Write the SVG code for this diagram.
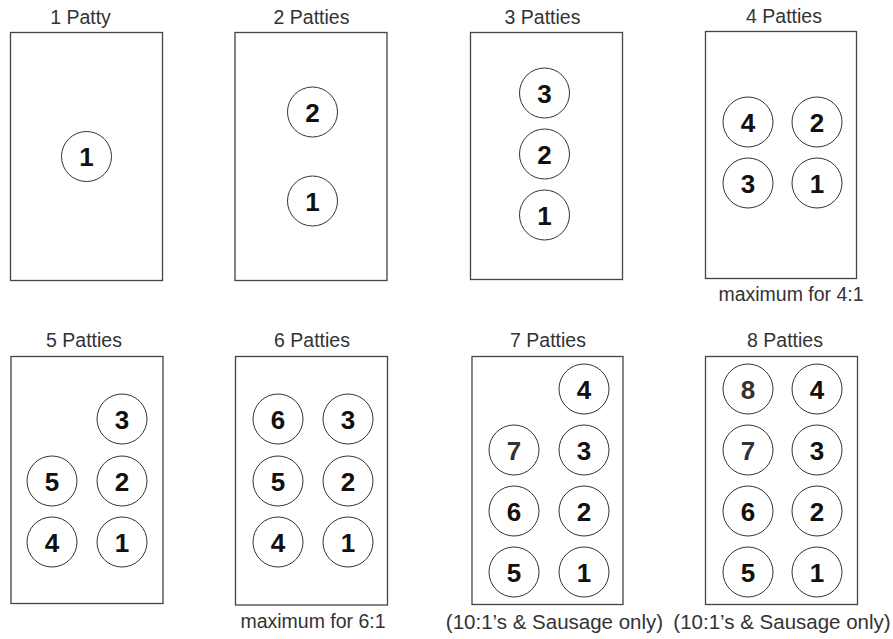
<svg xmlns="http://www.w3.org/2000/svg" width="893" height="639" viewBox="0 0 893 639">
<style>
  .panel { fill: #ffffff; stroke: #444444; stroke-width: 1.3; }
  .patty { fill: #ffffff; stroke: #333333; stroke-width: 1; }
  .num { font-family: "Liberation Sans", Arial, sans-serif; font-weight: bold; font-size: 26px; fill: #111111; text-anchor: middle; }
  .num.soft { fill: #333333; }
  .title { font-family: "Liberation Sans", Arial, sans-serif; font-size: 19.5px; fill: #333333; text-anchor: middle; }
  .note { font-family: "Liberation Sans", Arial, sans-serif; font-size: 19.5px; fill: #333333; text-anchor: middle; }
  .note.wide { font-size: 20.5px; }
</style>
<rect x="0" y="0" width="893" height="639" fill="#ffffff"/>

<g id="panel-1">
  <text class="title" x="80.5" y="24">1 Patty</text>
  <rect class="panel" x="10.5" y="32.5" width="152" height="248"/>
  <g id="p1-1"><circle class="patty" cx="86.5" cy="156.5" r="25"/><text class="num" x="86.5" y="166">1</text></g>
</g>

<g id="panel-2">
  <text class="title" x="311.5" y="24">2 Patties</text>
  <rect class="panel" x="235" y="32.5" width="152" height="248"/>
  <g id="p2-2"><circle class="patty" cx="312.5" cy="112" r="25"/><text class="num" x="312.5" y="121.5">2</text></g>
  <g id="p2-1"><circle class="patty" cx="312.5" cy="201" r="25"/><text class="num" x="312.5" y="210.5">1</text></g>
</g>

<g id="panel-3">
  <text class="title" x="542.5" y="24">3 Patties</text>
  <rect class="panel" x="470.5" y="32.5" width="152" height="247"/>
  <g id="p3-3"><circle class="patty" cx="544.5" cy="93" r="25"/><text class="num" x="544.5" y="102.5">3</text></g>
  <g id="p3-2"><circle class="patty" cx="544.5" cy="154" r="25"/><text class="num" x="544.5" y="163.5">2</text></g>
  <g id="p3-1"><circle class="patty" cx="544.5" cy="215" r="25"/><text class="num" x="544.5" y="224.5">1</text></g>
</g>

<g id="panel-4">
  <text class="title" x="784" y="23">4 Patties</text>
  <rect class="panel" x="705.5" y="31.5" width="151" height="247"/>
  <g id="p4-4"><circle class="patty" cx="748" cy="122" r="25"/><text class="num" x="748" y="131.5">4</text></g>
  <g id="p4-2"><circle class="patty" cx="817" cy="122" r="25"/><text class="num" x="817" y="131.5">2</text></g>
  <g id="p4-3"><circle class="patty" cx="748" cy="183" r="25"/><text class="num" x="748" y="192.5">3</text></g>
  <g id="p4-1"><circle class="patty" cx="817" cy="183" r="25"/><text class="num" x="817" y="192.5">1</text></g>
  <text class="note" x="791" y="301">maximum for 4:1</text>
</g>

<g id="panel-5">
  <text class="title" x="84" y="347">5 Patties</text>
  <rect class="panel" x="11" y="356.5" width="152" height="247"/>
  <g id="p5-3"><circle class="patty" cx="122" cy="419" r="25"/><text class="num" x="122" y="428.5">3</text></g>
  <g id="p5-5"><circle class="patty" cx="52" cy="481" r="25"/><text class="num" x="52" y="490.5">5</text></g>
  <g id="p5-2"><circle class="patty" cx="122" cy="481" r="25"/><text class="num" x="122" y="490.5">2</text></g>
  <g id="p5-4"><circle class="patty" cx="52" cy="542" r="25"/><text class="num" x="52" y="551.5">4</text></g>
  <g id="p5-1"><circle class="patty" cx="122" cy="542" r="25"/><text class="num" x="122" y="551.5">1</text></g>
</g>

<g id="panel-6">
  <text class="title" x="312" y="347">6 Patties</text>
  <rect class="panel" x="235.5" y="356.5" width="152" height="248.5"/>
  <g id="p6-6"><circle class="patty" cx="278" cy="419" r="25"/><text class="num" x="278" y="428.5">6</text></g>
  <g id="p6-3"><circle class="patty" cx="348" cy="419" r="25"/><text class="num" x="348" y="428.5">3</text></g>
  <g id="p6-5"><circle class="patty" cx="278" cy="481" r="25"/><text class="num" x="278" y="490.5">5</text></g>
  <g id="p6-2"><circle class="patty" cx="348" cy="481" r="25"/><text class="num" x="348" y="490.5">2</text></g>
  <g id="p6-4"><circle class="patty" cx="278" cy="542" r="25"/><text class="num" x="278" y="551.5">4</text></g>
  <g id="p6-1"><circle class="patty" cx="348" cy="542" r="25"/><text class="num" x="348" y="551.5">1</text></g>
  <text class="note" x="313" y="628">maximum for 6:1</text>
</g>

<g id="panel-7">
  <text class="title" x="548" y="347">7 Patties</text>
  <rect class="panel" x="472" y="356.5" width="151" height="248"/>
  <g id="p7-4"><circle class="patty" cx="584" cy="389" r="25"/><text class="num" x="584" y="398.5">4</text></g>
  <g id="p7-7"><circle class="patty" cx="514" cy="450" r="25"/><text class="num soft" x="514" y="459.5">7</text></g>
  <g id="p7-3"><circle class="patty" cx="584" cy="450" r="25"/><text class="num" x="584" y="459.5">3</text></g>
  <g id="p7-6"><circle class="patty" cx="514" cy="511" r="25"/><text class="num" x="514" y="520.5">6</text></g>
  <g id="p7-2"><circle class="patty" cx="584" cy="511" r="25"/><text class="num" x="584" y="520.5">2</text></g>
  <g id="p7-5"><circle class="patty" cx="514" cy="572" r="25"/><text class="num" x="514" y="581.5">5</text></g>
  <g id="p7-1"><circle class="patty" cx="584" cy="572" r="25"/><text class="num" x="584" y="581.5">1</text></g>
  <text class="note wide" x="554.5" y="629">(10:1’s &amp; Sausage only)</text>
</g>

<g id="panel-8">
  <text class="title" x="785" y="347">8 Patties</text>
  <rect class="panel" x="705.5" y="356.5" width="152" height="248"/>
  <g id="p8-8"><circle class="patty" cx="748" cy="389" r="25"/><text class="num soft" x="748" y="398.5">8</text></g>
  <g id="p8-4"><circle class="patty" cx="817" cy="389" r="25"/><text class="num" x="817" y="398.5">4</text></g>
  <g id="p8-7"><circle class="patty" cx="748" cy="450" r="25"/><text class="num soft" x="748" y="459.5">7</text></g>
  <g id="p8-3"><circle class="patty" cx="817" cy="450" r="25"/><text class="num" x="817" y="459.5">3</text></g>
  <g id="p8-6"><circle class="patty" cx="748" cy="511" r="25"/><text class="num" x="748" y="520.5">6</text></g>
  <g id="p8-2"><circle class="patty" cx="817" cy="511" r="25"/><text class="num" x="817" y="520.5">2</text></g>
  <g id="p8-5"><circle class="patty" cx="748" cy="572" r="25"/><text class="num" x="748" y="581.5">5</text></g>
  <g id="p8-1"><circle class="patty" cx="817" cy="572" r="25"/><text class="num" x="817" y="581.5">1</text></g>
  <text class="note wide" x="782" y="629">(10:1’s &amp; Sausage only)</text>
</g>

<g id="connectors"></g>
</svg>
